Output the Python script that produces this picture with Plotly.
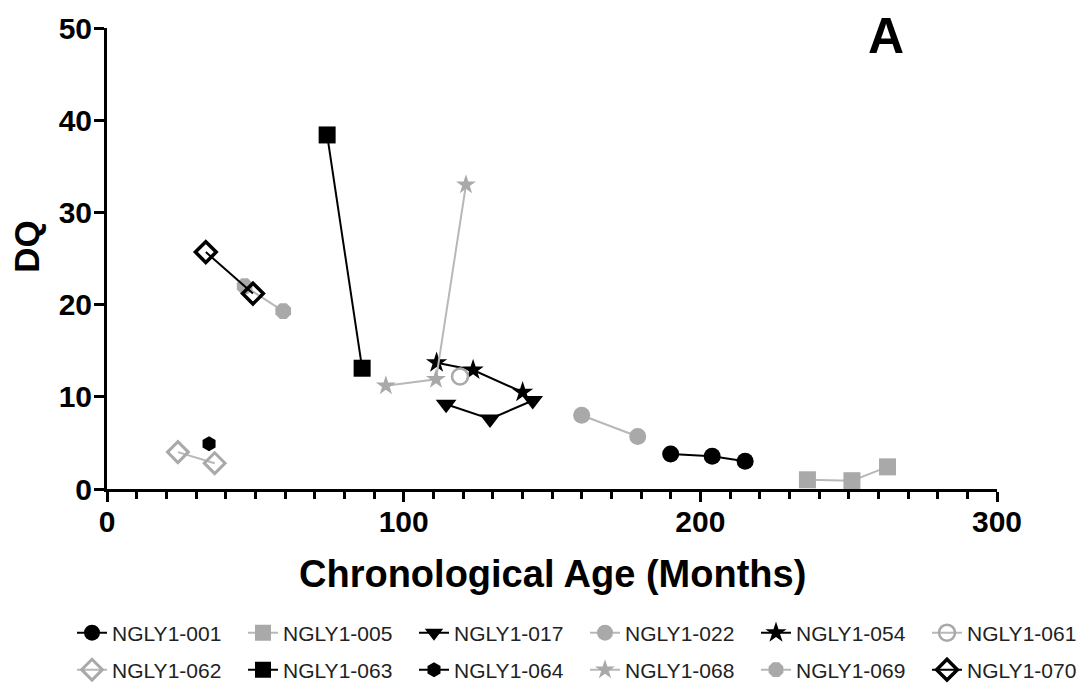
import plotly.graph_objects as go

# ---- data (months, DQ) ----
names = ["NGLY1-001", "NGLY1-005", "NGLY1-017", "NGLY1-022", "NGLY1-054", "NGLY1-061",
         "NGLY1-062", "NGLY1-063", "NGLY1-064", "NGLY1-068", "NGLY1-069", "NGLY1-070"]

age_001 = [190.0, 204.0, 215.1]
dq_001 = [3.8, 3.55, 3.0]
age_005 = [236.1, 251.1, 263.1]
dq_005 = [1.0, 0.9, 2.4]
age_017 = [114.3, 129.1, 143.5]
dq_017 = [9.2, 7.6, 9.6]
age_022 = [160.0, 178.9]
dq_022 = [8.0, 5.7]
age_054 = [111.1, 123.4, 140.1]
dq_054 = [13.7, 12.9, 10.5]
age_061 = [119.0]
dq_061 = [12.2]
age_062 = [23.9, 36.3]
dq_062 = [4.0, 2.8]
age_063 = [74.2, 86.0]
dq_063 = [38.4, 13.1]
age_064 = [34.4]
dq_064 = [4.9]
age_068 = [94.0, 110.9, 121.0]
dq_068 = [11.2, 11.9, 33.0]
age_069 = [46.4, 59.4]
dq_069 = [22.0, 19.3]
age_070 = [33.3, 49.2]
dq_070 = [25.7, 21.2]

x_ticks = [0, 100, 200, 300]
y_ticks = [0, 10, 20, 30, 40, 50]

BLACK = "#000000"
GREY = "#a9a9a9"
GREYLINE = "#b8b8b8"

series = [
    (names[0], age_001, dq_001, dict(symbol="circle", size=17, color=BLACK), BLACK),
    (names[1], age_005, dq_005, dict(symbol="square", size=17, color=GREY), GREYLINE),
    (names[2], age_017, dq_017, dict(symbol="triangle-down", size=18, color=BLACK), BLACK),
    (names[3], age_022, dq_022, dict(symbol="circle", size=17, color=GREY), GREYLINE),
    (names[4], age_054, dq_054, dict(symbol="star", size=16, color=BLACK), BLACK),
    (names[5], age_061, dq_061, dict(symbol="circle-open", size=16, color=GREY,
                                     line=dict(width=2.5, color=GREY)), GREYLINE),
    (names[6], age_062, dq_062, dict(symbol="diamond-open", size=16, color=GREY,
                                     line=dict(width=3, color=GREY)), GREYLINE),
    (names[7], age_063, dq_063, dict(symbol="square", size=17, color=BLACK), BLACK),
    (names[8], age_064, dq_064, dict(symbol="hexagon", size=15, color=BLACK), BLACK),
    (names[9], age_068, dq_068, dict(symbol="star", size=15, color=GREY), GREYLINE),
    (names[10], age_069, dq_069, dict(symbol="octagon", size=17, color=GREY), GREYLINE),
    (names[11], age_070, dq_070, dict(symbol="diamond-open", size=16, color=BLACK,
                                      line=dict(width=3.5, color=BLACK)), BLACK),
]

FONT = "Liberation Sans, Arial, sans-serif"
OFF = 8                      # default page body margin
W, H = 1085 - OFF, 692 - OFF

# plot-area geometry in figure pixels (used only to place legends / labels)
L, T = 107 - OFF, 28 - OFF
R = W - (997 - OFF)
B = H - (489.5 - OFF)
PW, PH = W - L - R, H - T - B

def px_x(p):          # reference-screenshot pixel -> paper fraction
    return (p - OFF - L) / PW

def px_y(p):
    return (H - B - (p - OFF)) / PH

fig = go.Figure()
legends = {}
for i, (name, xs, ys, mk, lc) in enumerate(series):
    key = "legend" if i == 0 else f"legend{i + 1}"
    fig.add_trace(go.Scatter(
        x=xs, y=ys, name=name, mode="lines+markers",
        marker=mk, line=dict(color=lc, width=2), legend=key,
    ))
    col, row = i % 6, i // 6
    text_start = 119 + 171 * col
    row_y = 633 + 37 * row
    legends[key] = dict(
        xref="container", yref="container",
        x=(text_start - 47 - OFF) / W, y=1 - (row_y - OFF) / H,
        xanchor="left", yanchor="middle", orientation="h",
        font=dict(family=FONT, size=21, color="#222"),
        bgcolor="rgba(0,0,0,0)", borderwidth=0, itemclick=False, itemdoubleclick=False,
    )

fig.update_layout(
    width=W, height=H,
    margin=dict(l=L, r=R, t=T, b=B, autoexpand=False),
    plot_bgcolor="white", paper_bgcolor="white",
    showlegend=True,
    xaxis=dict(
        range=[0, 300], tickvals=x_ticks, ticktext=[str(v) for v in x_ticks],
        showgrid=False, zeroline=False,
        showline=True, linecolor=BLACK, linewidth=3,
        ticks="outside", ticklen=10, tickwidth=2.5, tickcolor=BLACK,
        minor=dict(dtick=10, ticks="outside", ticklen=7, tickwidth=2.5, tickcolor=BLACK),
        ticklabelstandoff=-6,
        tickfont=dict(family=FONT, size=30, color=BLACK, weight="bold"),
        fixedrange=True, automargin=False,
    ),
    yaxis=dict(
        range=[0, 50], tickvals=y_ticks, ticktext=[str(v) for v in y_ticks],
        showgrid=False, zeroline=False,
        showline=True, linecolor=BLACK, linewidth=3,
        ticks="outside", ticklen=10, tickwidth=2.5, tickcolor=BLACK,
        ticklabelstandoff=-4,
        tickfont=dict(family=FONT, size=30, color=BLACK, weight="bold"),
        fixedrange=True, automargin=False,
    ),
    annotations=[
        dict(text="<b>Chronological Age (Months)</b>", xref="paper", yref="paper",
             x=px_x(552), y=px_y(575), xanchor="center", yanchor="middle",
             showarrow=False, font=dict(family=FONT, size=38, color=BLACK)),
        dict(text="<b>DQ</b>", xref="paper", yref="paper", textangle=-90,
             x=px_x(27), y=px_y(247), xanchor="center", yanchor="middle",
             showarrow=False, font=dict(family=FONT, size=35, color=BLACK)),
        dict(text="<b>A</b>", xref="paper", yref="paper",
             x=px_x(886), y=px_y(36), xanchor="center", yanchor="middle",
             showarrow=False, font=dict(family=FONT, size=50, color=BLACK)),
    ],
    **legends,
)

fig.write_html("out.html")
